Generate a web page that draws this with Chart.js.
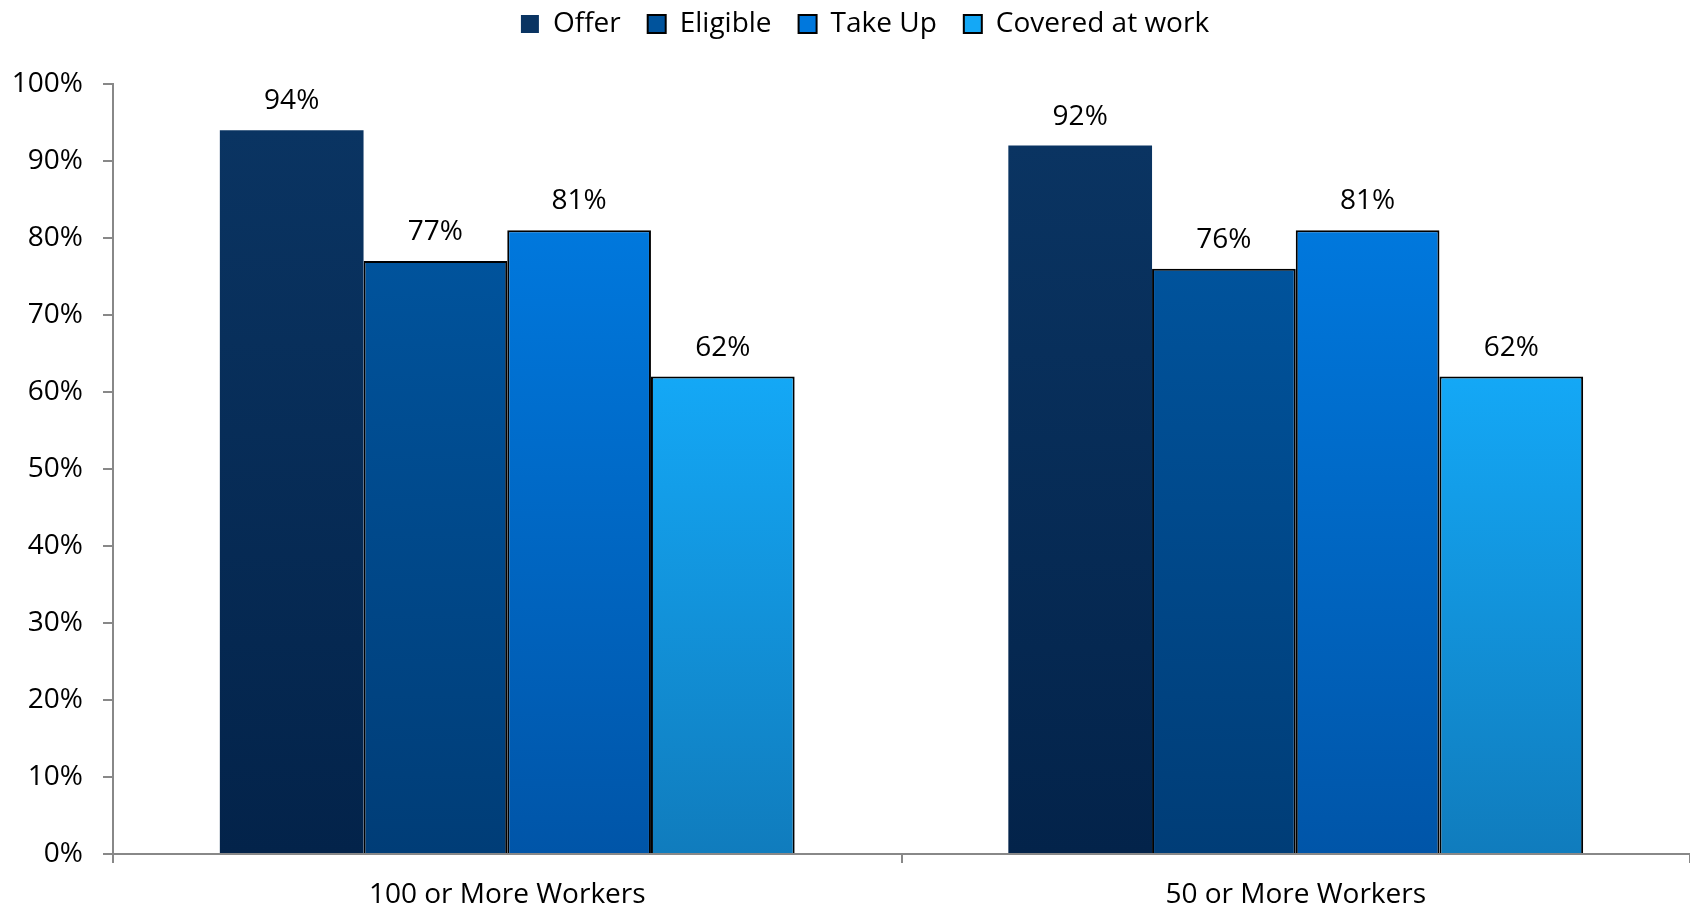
<!DOCTYPE html>
<html>
<head>
<meta charset="utf-8">
<script src="https://cdn.jsdelivr.net/npm/chart.js@4"></script>
<style>
    body { margin: 0; background: #fff; }
    #wrap { width: 1690px; height: 909px; }
</style>
</head>
<body>
<div id="wrap"><canvas id="covChart"></canvas></div>
<script>
const categories = ["100 or More Workers", "50 or More Workers"];
const seriesNames = ["Offer", "Eligible", "Take Up", "Covered at work"];
const offer = [94, 92];
const eligible = [77, 76];
const takeUp = [81, 81];
const coveredAtWork = [62, 62];
const yTicks = [0, 10, 20, 30, 40, 50, 60, 70, 80, 90, 100];

// top / bottom colours of each bar's vertical gradient
const shades = [
    ["#0a3462", "#03234a"],
    ["#00539c", "#003d77"],
    ["#0078dd", "#0055a8"],
    ["#14a8f6", "#107cbd"]
];

const FONT = "'Open Sans', sans-serif";
const FSIZE = 28;

function barFill(i) {
    return function (ctx) {
        const chart = ctx.chart;
        const area = chart.chartArea;
        if (!area || ctx.raw === undefined) return shades[i][0];
        const top = chart.scales.y.getPixelForValue(ctx.raw);
        const g = chart.ctx.createLinearGradient(0, top, 0, area.bottom);
        g.addColorStop(0, shades[i][0]);
        g.addColorStop(1, shades[i][1]);
        return g;
    };
}

const values = [offer, eligible, takeUp, coveredAtWork];

const datasets = values.map((v, i) => ({
    label: seriesNames[i],
    data: v,
    backgroundColor: barFill(i),
    borderColor: "#000",
    borderWidth: i === 0 ? 0 : 2,
    borderSkipped: "bottom",
    categoryPercentage: 0.729,
    barPercentage: 1.0
}));

// percent labels above every bar
const barLabels = {
    id: "barLabels",
    afterDatasetsDraw(chart) {
        const c = chart.ctx;
        c.save();
        c.font = FSIZE + "px " + FONT;
        c.fillStyle = "#000";
        c.textAlign = "center";
        c.textBaseline = "middle";
        chart.data.datasets.forEach((ds, i) => {
            chart.getDatasetMeta(i).data.forEach((bar, j) => {
                c.fillText(ds.data[j] + "%", bar.x, bar.y - 29);
            });
        });
        c.restore();
    }
};

// more room under the legend, and nudge it up and a bit to the right
const legendTweak = {
    id: "legendTweak",
    beforeLayout(chart) {
        const lg = chart.legend;
        if (!lg || lg._tweaked) return;
        lg._tweaked = true;
        const fit = lg.fit;
        lg.fit = function () {
            fit.call(this);
            this.height += 19;
        };
        const draw = lg.draw;
        lg.draw = function () {
            const c = this.ctx;
            c.save();
            c.translate(20, -17);
            draw.call(this);
            c.restore();
        };
    }
};

new Chart(document.getElementById("covChart"), {
    type: "bar",
    data: { labels: categories, datasets: datasets },
    options: {
        responsive: true,
        maintainAspectRatio: false,
        animation: false,
        layout: { padding: 0 },
        plugins: {
            tooltip: { enabled: false },
            legend: {
                position: "top",
                labels: {
                    color: "#000",
                    font: { family: FONT, size: FSIZE },
                    boxWidth: 18,
                    boxHeight: 18,
                    padding: 27
                }
            }
        },
        scales: {
            x: {
                grid: { drawOnChartArea: false, color: "#888", lineWidth: 2, tickLength: 9 },
                border: { color: "#888", width: 2 },
                ticks: { color: "#000", font: { family: FONT, size: FSIZE }, padding: 15 },
                afterFit(scale) { scale.height = 55; }
            },
            y: {
                min: 0,
                max: 100,
                afterBuildTicks(scale) { scale.ticks = yTicks.map(v => ({ value: v })); },
                grid: { drawOnChartArea: false, color: "#888", lineWidth: 2, tickLength: 10 },
                border: { color: "#888", width: 2 },
                ticks: {
                    color: "#000",
                    font: { family: FONT, size: FSIZE },
                    padding: 20,
                    callback: v => v + "%"
                },
                afterFit(scale) { scale.width = 113; }
            }
        }
    },
    plugins: [barLabels, legendTweak]
});
</script>
</body>
</html>
